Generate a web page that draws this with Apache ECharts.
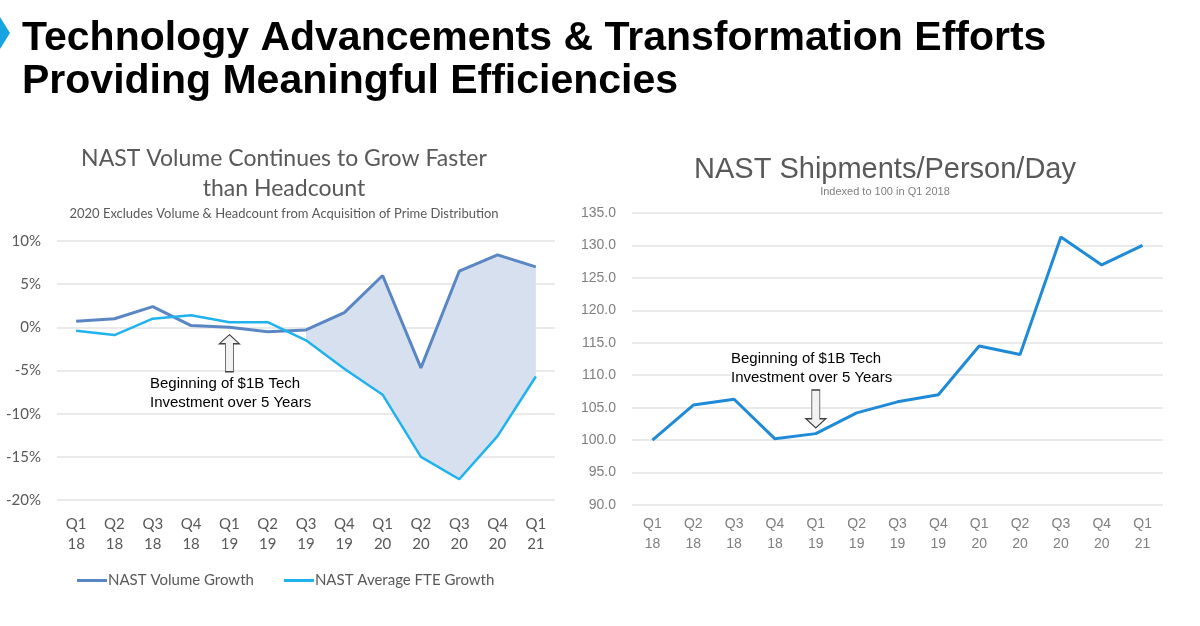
<!DOCTYPE html>
<html>
<head>
<meta charset="utf-8">
<script src="https://cdn.jsdelivr.net/npm/echarts@6/dist/echarts.min.js"></script>
<style>
  html, body { margin: 0; padding: 0; background: #fff; }
  #main { width: 1200px; height: 626px; }
</style>
</head>
<body>
<div id="main"></div>
<script>
var quarters = ['Q1\n18', 'Q2\n18', 'Q3\n18', 'Q4\n18', 'Q1\n19', 'Q2\n19', 'Q3\n19',
    'Q4\n19', 'Q1\n20', 'Q2\n20', 'Q3\n20', 'Q4\n20', 'Q1\n21'];
// NAST growth, %
var volumeGrowth = [0.7, 1.0, 2.4, 0.2, 0.0, -0.5, -0.3, 1.7, 6.0, -4.7, 6.5, 8.4, 7.0];
var fteGrowth = [-0.4, -0.9, 1.0, 1.4, 0.6, 0.6, -1.5, -4.8, -7.8, -15.0, -17.6, -12.6, -5.7];
// shipments per person per day, indexed to 100
var shipments = [100.0, 105.4, 106.3, 100.2, 101.0, 104.2, 105.9, 107.0, 114.5, 113.2, 131.3, 127.0, 130.0];
var gapStart = 6; // shading starts at Q3 19

var myChart = echarts.init(document.getElementById('main'));

// band between the two growth lines
var gapBase = [];
var gapSize = [];
for (var i = 0; i < quarters.length; i++) {
    if (i < gapStart) {
        gapBase.push(null);
        gapSize.push(null);
    } else {
        gapBase.push(fteGrowth[i]);
        gapSize.push(+(volumeGrowth[i] - fteGrowth[i]).toFixed(2));
    }
}

var grey = '#595959';
var calibri = 'Lato';
var arial = 'Liberation Sans';

var upArrow = 'path://M10,0 L20,9 L14,9 L14,37 L6,37 L6,9 L0,9 Z';
var downArrow = 'path://M6,0 L14,0 L14,28 L20,28 L10,37 L0,28 L6,28 Z';

var option = {
    animation: false,
    title: [{
        text: 'Technology Advancements & Transformation Efforts\nProviding Meaningful Efficiencies',
        left: 17, top: 12,
        textStyle: { fontFamily: arial, fontSize: 41, fontWeight: 'bold', color: '#000', lineHeight: 43 }
    }, {
        text: 'NAST Volume Continues to Grow Faster\nthan Headcount',
        subtext: '2020 Excludes Volume & Headcount from Acquisition of Prime Distribution',
        left: 279, top: 139, textAlign: 'center', itemGap: 3,
        textStyle: { fontFamily: calibri, fontSize: 23, fontWeight: 'normal', color: grey, lineHeight: 30 },
        subtextStyle: { fontFamily: calibri, fontSize: 13, color: grey }
    }, {
        text: 'NAST Shipments/Person/Day',
        subtext: 'Indexed to 100 in Q1 2018',
        left: 880, top: 150, textAlign: 'center', itemGap: 2,
        textStyle: { fontFamily: arial, fontSize: 29, fontWeight: 'normal', color: grey },
        subtextStyle: { fontFamily: arial, fontSize: 11, color: '#7f7f7f' }
    }],
    legend: {
        data: ['NAST Volume Growth', 'NAST Average FTE Growth'],
        left: 72, top: 568,
        icon: 'rect', itemWidth: 30, itemHeight: 3, itemGap: 30,
        textStyle: { fontFamily: calibri, fontSize: 15, color: grey, padding: [0, 0, 0, -4] }
    },
    grid: [
        { left: 57, right: 645, top: 241, bottom: 126 },
        { left: 632, right: 37, top: 213, bottom: 121 }
    ],
    xAxis: [{
        gridIndex: 0, type: 'category', data: quarters,
        axisLine: { show: false }, axisTick: { show: false },
        axisLabel: { margin: 14, fontFamily: calibri, fontSize: 15, color: grey, lineHeight: 20 }
    }, {
        gridIndex: 1, type: 'category', data: quarters,
        axisLine: { show: false }, axisTick: { show: false },
        axisLabel: { margin: 9, fontFamily: arial, fontSize: 14, color: '#7f7f7f', lineHeight: 20 }
    }],
    yAxis: [{
        gridIndex: 0, type: 'value', min: -20, max: 10, interval: 5,
        axisLabel: { margin: 16, fontFamily: calibri, fontSize: 15, color: grey, formatter: '{value}%' },
        splitLine: { lineStyle: { color: '#e3e3e3', width: 1.5 } }
    }, {
        gridIndex: 1, type: 'value', min: 90, max: 135, interval: 5,
        axisLabel: {
            margin: 16, fontFamily: arial, fontSize: 14, color: '#7f7f7f',
            formatter: function (v) { return v.toFixed(1); }
        },
        splitLine: { lineStyle: { color: '#e3e3e3', width: 1.5 } }
    }],
    series: [{
        name: 'gapBase', type: 'line', xAxisIndex: 0, yAxisIndex: 0,
        stack: 'gap', stackStrategy: 'all', data: gapBase,
        symbol: 'none', silent: true, lineStyle: { opacity: 0 }, z: 1
    }, {
        name: 'gap', type: 'line', xAxisIndex: 0, yAxisIndex: 0,
        stack: 'gap', stackStrategy: 'all', data: gapSize,
        symbol: 'none', silent: true, lineStyle: { opacity: 0 },
        areaStyle: { color: '#d6e0ee', opacity: 1 }, z: 1
    }, {
        name: 'NAST Volume Growth', type: 'line', xAxisIndex: 0, yAxisIndex: 0,
        data: volumeGrowth, symbol: 'none', color: '#5a87c4',
        lineStyle: { width: 3, color: '#5a87c4' }, z: 3,
        markPoint: {
            silent: true,
            data: [{ coord: [quarters[4], -3.0], symbol: upArrow, symbolSize: [20, 37] }],
            itemStyle: { color: '#f2f2f2', borderColor: '#404040', borderWidth: 1 },
            label: { show: false }
        }
    }, {
        name: 'NAST Average FTE Growth', type: 'line', xAxisIndex: 0, yAxisIndex: 0,
        data: fteGrowth, symbol: 'none', color: '#1fb2ec',
        lineStyle: { width: 2.5, color: '#1fb2ec' }, z: 3
    }, {
        name: 'NAST Shipments/Person/Day', type: 'line', xAxisIndex: 1, yAxisIndex: 1,
        data: shipments, symbol: 'none',
        lineStyle: { width: 3, color: '#1f8bd8' }, z: 3,
        markPoint: {
            silent: true,
            data: [{ coord: [quarters[4], 104.8], symbol: downArrow, symbolSize: [20, 38] }],
            itemStyle: { color: '#f2f2f2', borderColor: '#404040', borderWidth: 1 },
            label: { show: false }
        }
    }],
    graphic: [{
        type: 'polygon',
        shape: { points: [[0, 17], [10, 33], [0, 49]] },
        style: { fill: '#18a4e0' }
    }, {
        type: 'text', left: 150, top: 374,
        style: {
            text: 'Beginning of $1B Tech\nInvestment over 5 Years',
            font: '15px "Liberation Sans"', fill: '#000', lineHeight: 19
        }
    }, {
        type: 'text', left: 731, top: 349, z: 10,
        style: {
            text: 'Beginning of $1B Tech\nInvestment over 5 Years',
            font: '15px "Liberation Sans"', fill: '#000', lineHeight: 19,
            backgroundColor: '#fff'
        }
    }]
};

myChart.setOption(option);
</script>
</body>
</html>
